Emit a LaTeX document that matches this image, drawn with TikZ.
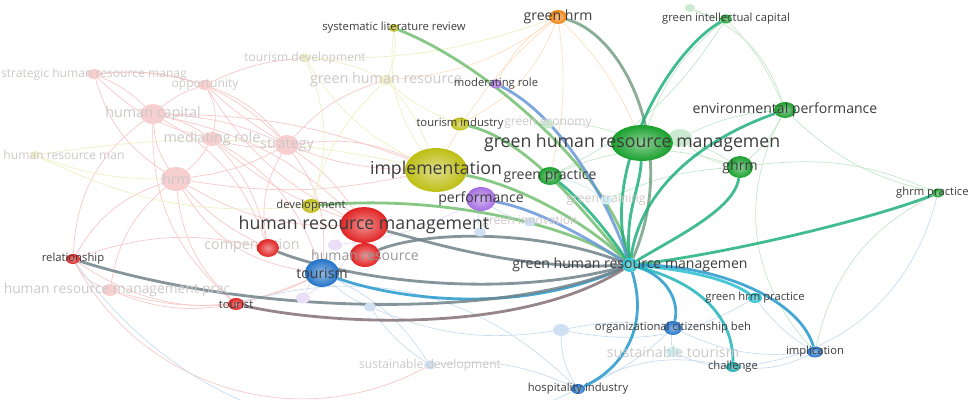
\documentclass[tikz,border=0pt]{standalone}
\usepackage{fontspec}
\setmainfont{Open Sans}
\usetikzlibrary{shapes.geometric}
\definecolor{vred}{RGB}{225,35,35}
\definecolor{vgreen}{RGB}{25,160,45}
\definecolor{vblue}{RGB}{35,115,200}
\definecolor{vyellow}{RGB}{190,190,20}
\definecolor{vpurple}{RGB}{165,110,225}
\definecolor{vorange}{RGB}{240,130,15}
\definecolor{vcyan}{RGB}{40,190,205}
\definecolor{vteal}{RGB}{25,170,170}
\definecolor{txtdark}{RGB}{60,60,60}
\definecolor{txtfade}{RGB}{205,200,200}
\pgfdeclarelayer{web}
\pgfdeclarelayer{links}
\pgfsetlayers{web,links,main}
\tikzset{
  kw/.style={
    shape = ellipse,
    inner sep = 0pt,
    shade,
    inner color = #1!50!white,
    outer color = #1
  },
  kwf/.style={
    shape = ellipse,
    inner sep = 0pt,
    fill = #1!22!white
  },
  sz/.style args={#1x#2}{
    minimum width = #1*0.7087pt,
    minimum height = #2*0.7087pt
  },
  lbls/.style={text=txtdark, inner sep=0pt, font=\fontsize{8}{9}\selectfont},
  lblm/.style={text=txtdark, inner sep=0pt, font=\fontsize{10}{11}\selectfont},
  lbll/.style={text=txtdark, inner sep=0pt, font=\fontsize{12.6}{14}\selectfont},
  lblf/.style={text=txtfade, inner sep=0pt, font=\fontsize{8.6}{9}\selectfont},
  lblfm/.style={text=txtfade, inner sep=0pt, font=\fontsize{10.2}{11}\selectfont},
  lk/.style={
    line width = 2pt,
    draw = #1!50!vcyan,
    draw opacity = .85
  },
  fnt/.style={
    line width = .5pt,
    draw = #1!25!white
  }
}
\begin{document}
\begin{tikzpicture}[x=0.025cm,y=-0.025cm]
  \useasboundingbox (0,0) rectangle (971,400);
  % faded keywords
  \node[kwf=vred,sz=14x10,label={[lblf]center:strategic human resource manag}] (shrm) at (94,74) {};
  \node[kwf=vred,sz=14x10,label={[lblf]center:opportunity}] (opport) at (205,85) {};
  \node[kwf=vred,sz=26x20,label={[lblfm]center:human capital}] (humcap) at (153,114) {};
  \node[kwf=vred,sz=20x14,label={[lblfm]center:mediating role}] (medrole) at (212,139) {};
  \node[kwf=vred,sz=24x20,label={[lblfm]center:strategy}] (strat) at (287,145) {};
  \node[kwf=vred,sz=30x24,label={[lblfm]center:hrm}] (hrmf) at (176,179) {};
  \node[kwf=vyellow,sz=10x8] (hrman) at (35,155) {};
  \node[lblf] at (64,155) {human resource man};
  \node[kwf=vred,sz=16x12,label={[lblfm,font=\fontsize{9.8}{11}\selectfont,xshift=5pt]center:human resource management prac}] (hrmp) at (110,290) {};
  \node[kwf=vyellow,sz=12x9,label={[lblf]center:tourism development}] (tdev) at (305,58) {};
  \node[kwf=vyellow,sz=14x10,label={[lblfm]center:green human resource}] (ghr) at (386,80) {};
  \node[kwf=vgreen,sz=12x9,label={[lblf]center:green economy}] (geco) at (548,124) {};
  \node[kwf=vcyan,sz=12x9,label={[lblf]center:green training}] (gtrain) at (606,200) {};
  \node[kwf=vblue,sz=12x9,label={[lblf]center:green innovation}] (ginno) at (530,222) {};
  \node[kwf=vblue,sz=12x9,label={[lblf]center:sustainable development}] (sdev) at (430,365) {};
  \node[kwf=vcyan,sz=14x10,label={[lblfm]center:sustainable tourism}] (stour) at (673,352) {};
  \node[kwf=vgreen,sz=24x18] (fgreen) at (680,138) {};
  \node[kwf=vgreen,sz=10x8] (ftop) at (690,8) {};
  \node[kwf=vblue,sz=16x12] (fblue) at (561,330) {};
  \node[kwf=vblue,sz=12x9] (fblue2) at (370,307) {};
  \node[kwf=vpurple,sz=14x11] (fpurple) at (303,298) {};
  \node[kwf=vpurple,sz=14x11] (fpurple2) at (335,245) {};
  \node[kwf=vblue,sz=12x9] (fblue3) at (480,232) {};
  \node[lblfm] at (252,246) {compensation};
  % highlighted keywords
  \node[kw=vyellow,sz=62x44,label={[lbll]center:implementation}] (impl) at (436,170) {};
  \node[kw=vgreen,sz=62x36,label={[lbll,xshift=-7pt]center:green human resource managemen}] (ghrmbig) at (642,143) {};
  \node[kw=vred,sz=48x36,label={[lbll]center:human resource management}] (hrmgmt) at (364,225) {};
  \node[kw=vyellow,sz=10x8,label={[lbls]center:systematic literature review}] (slr) at (394,28) {};
  \node[kw=vorange,sz=18x14,label={[lblm]center:green hrm}] (ghrmo) at (558,17) {};
  \node[kw=vgreen,sz=12x9,label={[lbls]center:green intellectual capital}] (gic) at (726,19) {};
  \node[kw=vpurple,sz=12x9,label={[lbls]center:moderating role}] (modrole) at (496,84) {};
  \node[kw=vyellow,sz=18x13,label={[lbls]center:tourism industry}] (tourind) at (460,124) {};
  \node[kw=vgreen,sz=22x16,label={[lblm]center:environmental performance}] (envperf) at (785,110) {};
  \node[kw=vgreen,sz=26x22,label={[lblm]center:ghrm}] (ghrm) at (740,167) {};
  \node[kw=vgreen,sz=24x18,label={[lblm]center:green practice}] (gprac) at (550,176) {};
  \node[kw=vyellow,sz=18x14,label={[lbls]center:development}] (devel) at (311,206) {};
  \node[kw=vpurple,sz=30x24,label={[lblm]center:performance}] (perf) at (481,199) {};
  \node[kw=vred,sz=22x18] (comp) at (268,248) {};
  \node[kw=vred,sz=30x24,label={[lblm,text=black!40]center:human resource}] (hres) at (365,255) {};
  \node[kw=vblue,sz=34x28,label={[lblm]center:tourism}] (tourism) at (322,273) {};
  \node[kw=vred,sz=14x10,label={[lbls]center:relationship}] (relat) at (73,259) {};
  \node[kw=vred,sz=16x12,label={[lbls]center:tourist}] (tourist) at (236,304) {};
  \node[kw=vcyan,sz=16x14,label={[lblm]center:green human resource managemen}] (ghrmc) at (630,265) {};
  \node[kw=vgreen,sz=12x9,label={[lbls,xshift=-4pt]center:ghrm practice}] (ghrmprac) at (938,193) {};
  \node[kw=vcyan,sz=14x10,label={[lbls]center:green hrm practice}] (ghrmpr) at (755,298) {};
  \node[kw=vblue,sz=18x14,label={[lbls]center:organizational citizenship beh}] (ocb) at (673,328) {};
  \node[kw=vblue,sz=16x11,label={[lbls]center:implication}] (implic) at (815,352) {};
  \node[kw=vteal,sz=14x10,label={[lbls]center:challenge}] (chall) at (733,367) {};
  \node[kw=vblue,sz=14x10,label={[lbls]center:hospitality industry}] (hosp) at (578,389) {};
  % faint web
  \begin{pgfonlayer}{web}
    \foreach \a/\b/\c/\bb in {shrm/humcap/vred/10, shrm/hrmf/vred/-20, shrm/opport/vred/10,
      opport/humcap/vred/-10, opport/strat/vred/15, humcap/medrole/vred/10, humcap/hrmf/vred/-15,
      humcap/strat/vred/10, medrole/strat/vred/-10, medrole/hrmf/vred/10, hrmf/strat/vred/-10,
      hrmf/hrmgmt/vred/-15, hrmf/relat/vred/-20, hrmf/comp/vred/-10, strat/hrmgmt/vred/10,
      humcap/hrmgmt/vred/15, opport/hrmgmt/vred/-15, relat/humcap/vred/25, relat/hrmp/vred/-20,
      hrmp/hrmf/vred/20, hrmp/tourist/vred/-15, tourist/hrmf/vred/20, comp/humcap/vred/-20,
      medrole/hrmgmt/vred/-10, strat/impl/vred/15, hrmf/impl/vred/-10, humcap/impl/vred/10,
      medrole/tourism/vred/20, opport/tdev/vred/10, hrmf/tourism/vred/-25, relat/tourism/vred/-30,
      shrm/strat/vred/25, relat/comp/vred/15, hrmp/tourism/vred/-20, relat/sdev/vred/-45,
      shrm/medrole/vred/-15, opport/medrole/vred/20, strat/comp/vred/-20, medrole/comp/vred/15,
      strat/tourism/vred/20, humcap/tourist/vred/-25, opport/impl/vred/-20, strat/ghr/vred/15,
      tdev/ghr/vyellow/10, tdev/impl/vyellow/-15, ghr/impl/vyellow/10, ghr/tourind/vyellow/-10,
      slr/ghr/vyellow/15, slr/impl/vyellow/-20, tdev/devel/vyellow/20, hrman/hrmf/vyellow/-10,
      hrman/devel/vyellow/-15, hrman/impl/vyellow/10, ghr/devel/vyellow/-15, tdev/ghrmo/vyellow/-10,
      ghrmo/ghr/vorange/15, ghrmo/impl/vorange/-10, ghrmo/ghrmbig/vorange/10, ghrmo/tourind/vorange/20,
      ghrmo/modrole/vorange/-15, ghrmo/gprac/vorange/10,
      gic/envperf/vgreen/10, gic/ghrmbig/vgreen/-15, envperf/ghrm/vgreen/10, envperf/ghrmprac/vgreen/-15,
      ghrm/ghrmprac/vgreen/15, fgreen/envperf/vgreen/10, ftop/gic/vgreen/-10, ghrmbig/ghrm/vgreen/15,
      envperf/implic/vgreen/-35, ghrmprac/implic/vgreen/-25, geco/ghrmbig/vgreen/10, gic/gprac/vgreen/15,
      ghrm/gprac/vgreen/-20, fgreen/ghrm/vgreen/-15, ftop/envperf/vgreen/25, gtrain/ghrm/vgreen/10,
      sdev/hosp/vblue/15, sdev/tourism/vblue/-15, hosp/ocb/vblue/-10, fblue/ocb/vblue/10, fblue/hosp/vblue/-15,
      stour/ocb/vblue/10, stour/chall/vblue/-10, implic/chall/vblue/15, hosp/tourist/vblue/-30,
      fblue2/tourism/vblue/10, fblue2/sdev/vblue/-10, fblue3/perf/vblue/10, fblue/ghrmpr/vblue/-20,
      implic/ghrmpr/vblue/10, hosp/chall/vblue/20, fblue/fblue2/vblue/15, ocb/implic/vblue/-15,
      relat/hosp/vblue/-40, ghrmprac/chall/vblue/35, fpurple/tourism/vpurple/10, fpurple2/perf/vpurple/-10,
      fpurple/hrmgmt/vpurple/-15, ginno/perf/vblue/10, gtrain/gprac/vcyan/-10}
      \draw[fnt=\c] (\a) to[bend left=\bb] (\b);
  \end{pgfonlayer}
  % links of the selected keyword
  \begin{pgfonlayer}{links}
    \draw[lk=vyellow] (ghrmc) .. controls (620,190) and (500,70) .. (slr);
    \draw[lk=vorange!60!gray] (ghrmc) .. controls (680,150) and (625,35) .. (ghrmo);
    \draw[lk=vgreen] (ghrmc) .. controls (600,170) and (670,50) .. (gic);
    \draw[lk=vpurple] (ghrmc) .. controls (600,180) and (550,110) .. (modrole);
    \draw[lk=vyellow] (ghrmc) .. controls (590,220) and (530,140) .. (tourind);
    \draw[lk=vgreen] (ghrmc) .. controls (625,210) and (640,190) .. (ghrmbig);
    \draw[lk=vgreen] (ghrmc) .. controls (640,190) and (700,140) .. (envperf);
    \draw[lk=vgreen] (ghrmc) .. controls (670,240) and (735,210) .. (ghrm);
    \draw[lk=vgreen] (ghrmc) .. controls (720,255) and (870,220) .. (ghrmprac);
    \draw[lk=vyellow] (ghrmc) .. controls (590,225) and (520,185) .. (impl);
    \draw[lk=vgreen] (ghrmc) .. controls (600,220) and (570,190) .. (gprac);
    \draw[lk=vyellow] (ghrmc) .. controls (560,220) and (430,195) .. (devel);
    \draw[lk=vpurple] (ghrmc) .. controls (590,240) and (540,210) .. (perf);
    \draw[lk=vred!60!gray] (ghrmc) .. controls (520,270) and (440,245) .. (hrmgmt);
    \draw[lk=vred!60!gray] (ghrmc) .. controls (540,230) and (430,230) .. (hres);
    \draw[lk=vred!60!gray] (ghrmc) .. controls (500,300) and (350,280) .. (comp);
    \draw[lk=vblue] (ghrmc) .. controls (520,315) and (400,300) .. (tourism);
    \draw[lk=vred!60!gray] (ghrmc) .. controls (500,320) and (250,315) .. (relat);
    \draw[lk=vred] (ghrmc) .. controls (520,335) and (330,325) .. (tourist);
    \draw[lk=vcyan] (ghrmc) .. controls (690,270) and (730,280) .. (ghrmpr);
    \draw[lk=vblue] (ghrmc) .. controls (720,265) and (800,300) .. (implic);
    \draw[lk=vblue] (ghrmc) .. controls (665,275) and (680,300) .. (ocb);
    \draw[lk=vteal] (ghrmc) .. controls (690,280) and (733,310) .. (chall);
    \draw[lk=vblue] (ghrmc) .. controls (650,330) and (620,370) .. (hosp);
  \end{pgfonlayer}
\end{tikzpicture}
\end{document}
